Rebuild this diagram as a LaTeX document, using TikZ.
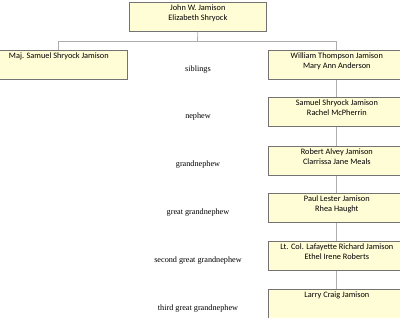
\documentclass[tikz,border=0pt]{standalone}
\usepackage{fontspec}
\setmainfont{Liberation Serif}
\newfontfamily\boxfont{Carlito}
\begin{document}
\begin{tikzpicture}[x=1pt,y=-1pt,
  famsbox/.style={draw=black!55, fill=yellow!16, line width=0.7pt, minimum width=137pt, minimum height=29pt, inner sep=0pt, anchor=north west,
    font=\boxfont\fontsize{8.3}{10}\selectfont},
  relabel/.style={font=\fontsize{8.2}{10}\selectfont, inner sep=0pt},
  conn/.style={draw=black!32, line width=0.8pt}]
\useasboundingbox (0,0) rectangle (400,318);
\clip (0,0) rectangle (400,318);
\newcommand{\famtext}[2]{\parbox[t][26pt][t]{135pt}{\centering\vspace{0.5pt}#1\\#2}}
% shadows
\foreach \xx/\yy in {129/2, -10/50, 268/50, 268/97, 268/146, 268/193, 268/241, 268/289}
  \fill[black!35] (\xx+1.2,\yy+1.2) rectangle (\xx+138.2,\yy+30.2);
\node[famsbox] (top) at (129,2) {\famtext{John W. Jamison}{Elizabeth Shryock}};
\node[famsbox] (maj) at (-10,50) {\famtext{Maj. Samuel Shryock Jamison}{}};
\node[famsbox] (wil) at (268,50) {\famtext{William Thompson Jamison}{Mary Ann Anderson}};
\node[famsbox] (sam) at (268,97) {\famtext{Samuel Shryock Jamison}{Rachel McPherrin}};
\node[famsbox] (rob) at (268,146) {\famtext{Robert Alvey Jamison}{Clarrissa Jane Meals}};
\node[famsbox] (pau) at (268,193) {\famtext{Paul Lester Jamison}{Rhea Haught}};
\node[famsbox] (laf) at (268,241) {\famtext{Lt. Col. Lafayette Richard Jamison}{Ethel Irene Roberts}};
\node[famsbox] (lar) at (268,289) {\famtext{Larry Craig Jamison}{}};
\coordinate (mid) at (197.5,41);
\draw[conn] (top.south) -- (mid);
\draw[conn] (mid) -| ([xshift=-0.5pt]maj.north);
\draw[conn] (mid) -| ([xshift=-0.5pt]wil.north);
\draw[conn] ([xshift=-0.5pt]wil.south) -- ([xshift=-0.5pt]sam.north);
\draw[conn] ([xshift=-0.5pt]sam.south) -- ([xshift=-0.5pt]rob.north);
\draw[conn] ([xshift=-0.5pt]rob.south) -- ([xshift=-0.5pt]pau.north);
\draw[conn] ([xshift=-0.5pt]pau.south) -- ([xshift=-0.5pt]laf.north);
\draw[conn] ([xshift=-0.5pt]laf.south) -- ([xshift=-0.5pt]lar.north);
\node[relabel] (l1) at (198,70) {siblings};
\node[relabel] (l2) at (198,117) {nephew};
\node[relabel] (l3) at (198,165) {grandnephew};
\node[relabel] (l4) at (198,213) {great grandnephew};
\node[relabel] (l5) at (198,261) {second great grandnephew};
\node[relabel] (l6) at (198,309) {third great grandnephew};
\end{tikzpicture}
\end{document}
